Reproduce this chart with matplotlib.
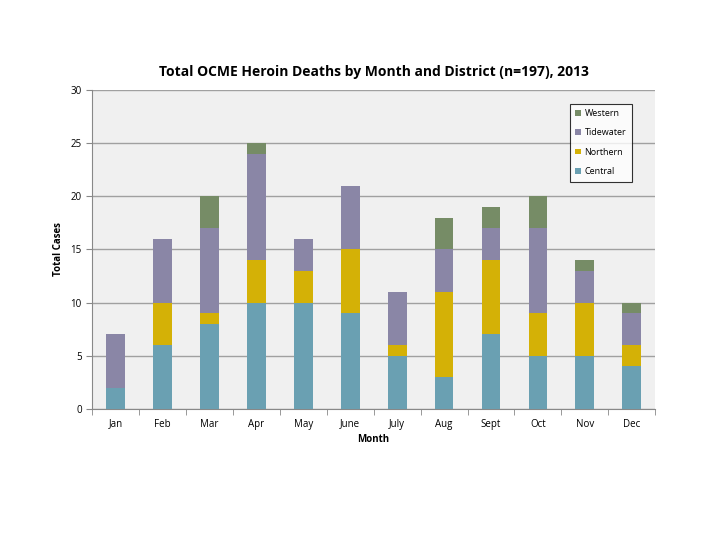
import matplotlib.pyplot as plt
import numpy as np

plt.rcParams['font.family'] = ['Open Sans', 'DejaVu Sans']

months = ["Jan", "Feb", "Mar", "Apr", "May", "June", "July", "Aug", "Sept", "Oct", "Nov", "Dec"]
central = [2, 6, 8, 10, 10, 9, 5, 3, 7, 5, 5, 4]
northern = [0, 4, 1, 4, 3, 6, 1, 8, 7, 4, 5, 2]
tidewater = [5, 6, 8, 10, 3, 6, 5, 4, 3, 8, 3, 3]
western = [0, 0, 3, 1, 0, 0, 0, 3, 2, 3, 1, 1]

series = [("Central", central, "#6aa0b2"),
          ("Northern", northern, "#d4b106"),
          ("Tidewater", tidewater, "#8a86a6"),
          ("Western", western, "#768c66")]

fig = plt.figure(figsize=(7.2, 5.4), dpi=100)
ax = fig.add_axes([0.128, 0.243, 0.782, 0.590])
ax.set_facecolor("#f0f0f0")

x = np.arange(len(months))
bottom = np.zeros(len(months))
handles = []
for name, vals, col in series:
    b = ax.bar(x, vals, 0.4, bottom=bottom, color=col, label=name, zorder=3)
    bottom += np.array(vals)
    handles.append(b)

ax.set_xlim(-0.5, len(months) - 0.5)
ax.set_ylim(0, 30)
ax.set_yticks(range(0, 31, 5))
ax.yaxis.grid(True, color="#a0a0a0", linewidth=1, zorder=0)
ax.set_xticks(x)
ax.set_xticklabels(months, fontsize=7)
ax.tick_params(axis="x", length=0, pad=7)
ax.set_xticks(np.arange(-0.5, len(months)), minor=True)
ax.tick_params(axis="x", which="minor", length=4, color="#888888")
ax.tick_params(axis="y", labelsize=7, length=4, color="#888888")

for s in ["top", "right"]:
    ax.spines[s].set_visible(False)
for s in ["left", "bottom"]:
    ax.spines[s].set_color("#888888")

ax.set_xlabel("Month", fontsize=7, fontweight="bold", labelpad=3)
ax.set_ylabel("Total Cases", fontsize=7, fontweight="bold", labelpad=5)
ax.set_title("Total OCME Heroin Deaths by Month and District (n=197), 2013",
             fontsize=10, fontweight="bold", pad=10)

leg = ax.legend(handles[::-1], [s[0] for s in series][::-1], loc="upper right",
                bbox_to_anchor=(0.958, 0.958), fontsize=6.5, frameon=True, fancybox=False,
                handlelength=0.6, handleheight=0.6, labelspacing=1.15, borderpad=0.6,
                handletextpad=0.4, borderaxespad=0, edgecolor="black")
leg.get_frame().set_facecolor("white")
leg.get_frame().set_linewidth(0.8)

fig.savefig("out.png", dpi=100)
